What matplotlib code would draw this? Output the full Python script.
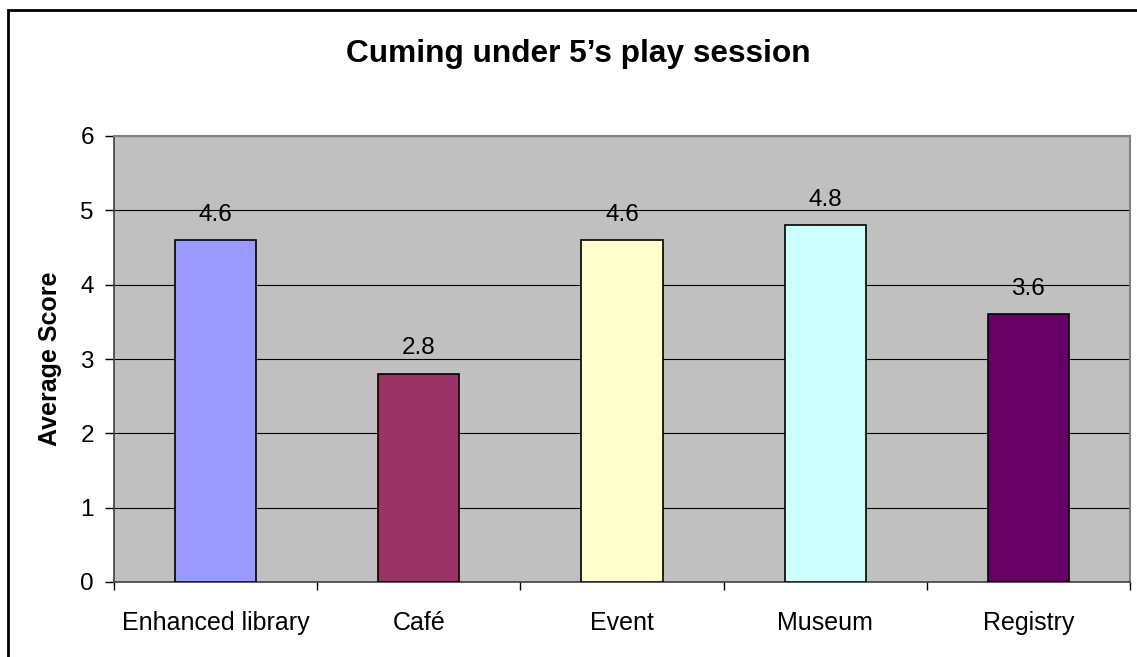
import matplotlib
matplotlib.use("Agg")
import matplotlib.pyplot as plt
from matplotlib.patches import Rectangle
import numpy as np

plt.rcParams['font.family'] = ['Liberation Sans', 'DejaVu Sans']

categories = ["Enhanced library", "Café", "Event", "Museum", "Registry"]
scores = [4.6, 2.8, 4.6, 4.8, 3.6]
bar_colors = ["#9999FF", "#993366", "#FFFFCC", "#CCFFFF", "#660066"]
y_ticks = [0, 1, 2, 3, 4, 5, 6]

fig = plt.figure(figsize=(11.37, 6.57), dpi=100)

# outer chart border, like the excel chart area
fig.patches.append(Rectangle((8 / 1137, -0.1), 1.2, 1.1 - 10 / 657,
                             transform=fig.transFigure, fill=False,
                             edgecolor="black", linewidth=2, zorder=0))

ax = fig.add_axes([114 / 1137, 1 - 582 / 657, (1130 - 114) / 1137, (582 - 136) / 657])
ax.set_facecolor("#C0C0C0")

x = np.arange(len(categories))
bars = ax.bar(x, scores, width=0.4, color=bar_colors, edgecolor="black",
              linewidth=1.2, zorder=3)

for rect, val in zip(bars, scores):
    ax.annotate('{}'.format(val),
                xy=(rect.get_x() + rect.get_width() / 2, rect.get_height()),
                xytext=(0, 14), textcoords="offset points",
                ha="center", va="baseline", fontsize=17.5)

ax.set_xlim(-0.5, len(categories) - 0.5)
ax.set_ylim(0, 6)
ax.set_yticks(y_ticks)
ax.set_yticklabels([str(t) for t in y_ticks], fontsize=17.5)
ax.yaxis.grid(True, color="black", linewidth=0.8, zorder=1)
ax.set_axisbelow(True)

ax.set_xticks(x)
ax.set_xticklabels(categories, fontsize=18)
ax.set_xticks(np.arange(-0.5, len(categories)), minor=True)
ax.tick_params(axis="x", which="major", length=0, pad=21)
ax.tick_params(axis="x", which="minor", length=6, width=1, direction="out")
ax.tick_params(axis="y", length=6.5, width=1, direction="out", pad=8)

for side in ["top", "right"]:
    ax.spines[side].set_color("#808080")
    ax.spines[side].set_linewidth(1.5)
for side in ["left", "bottom"]:
    ax.spines[side].set_color("#404040")
    ax.spines[side].set_linewidth(1.2)

ax.set_ylabel("Average Score", fontsize=18, fontweight="bold", labelpad=13)

fig.text(578 / 1137, 1 - 54 / 657, "Cuming under 5’s play session",
         ha="center", va="center", fontsize=22.8, fontweight="bold")

fig.savefig("out.png", dpi=100)
